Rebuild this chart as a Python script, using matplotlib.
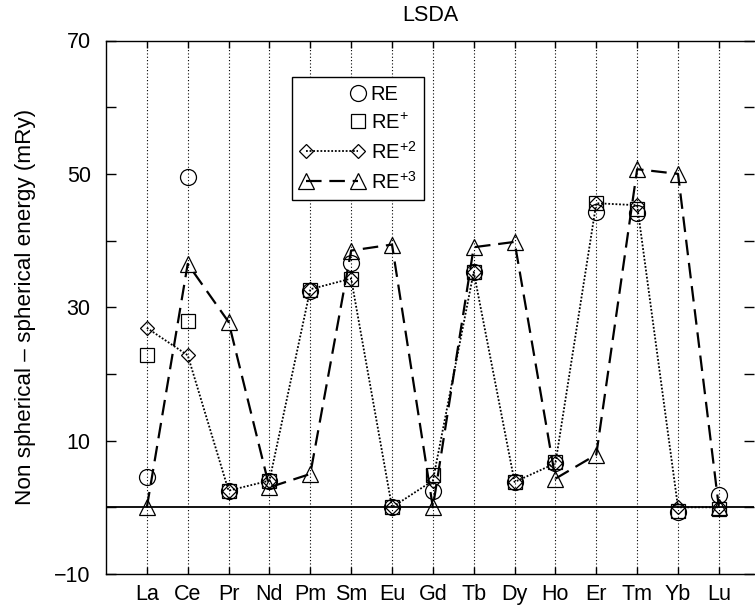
import numpy as np
import matplotlib
matplotlib.use('Agg')
import matplotlib.pyplot as plt
from matplotlib.legend_handler import HandlerLine2D

plt.rcParams['font.family'] = ['Liberation Sans', 'DejaVu Sans']
plt.rcParams['mathtext.fontset'] = 'custom'
plt.rcParams['mathtext.rm'] = 'Liberation Sans'
plt.rcParams['mathtext.it'] = 'Liberation Sans:italic'
plt.rcParams['mathtext.bf'] = 'Liberation Sans:bold'

# Rare-earth elements and energy differences (mRy)
elements = ['La', 'Ce', 'Pr', 'Nd', 'Pm', 'Sm', 'Eu', 'Gd', 'Tb', 'Dy', 'Ho', 'Er', 'Tm', 'Yb', 'Lu']
re_0 = [4.5, 49.6, 2.5, 4.0, 32.5, 36.6, 0.0, 2.4, 35.3, 3.8, 6.6, 44.3, 44.2, -0.7, 1.8]
re_p1 = [22.9, 27.9, 2.5, 4.0, 32.6, 34.3, 0.0, 4.8, 35.3, 3.8, 6.8, 45.6, 44.7, -0.5, -0.2]
re_p2 = [26.9, 22.8, 2.5, 4.0, 32.7, 34.3, 0.0, 4.0, 35.3, 3.8, 6.6, 45.6, 45.3, 0.0, 0.0]
re_p3 = [0.0, 36.5, 27.8, 3.0, 5.0, 38.5, 39.4, 0.0, 39.0, 39.8, 4.3, 7.9, 50.7, 50.0, 0.0]

ytick_values = [-10, 0, 10, 20, 30, 40, 50, 60, 70]
ytick_labels = ['\u221210', '', '10', '', '30', '', '50', '', '70']

x = np.arange(1, len(elements) + 1)


class EndMarkerHandler(HandlerLine2D):
    """Legend handler that puts a single marker at the right end of the sample."""
    def get_xdata(self, legend, xdescent, ydescent, width, height, fontsize):
        pad = self._marker_pad * fontsize
        xm = np.array([-xdescent + width - pad])
        return xm, xm


fig = plt.figure(figsize=(7.55, 6.1), dpi=100)
ax = fig.add_axes([106 / 755, 36 / 610, 648 / 755, 533.5 / 610])

# vertical dotted guides at each element
for xi in x:
    ax.axvline(xi, color='black', lw=0.8, linestyle=(0, (1, 2)), zorder=1)
ax.axhline(0, color='black', lw=1.3, zorder=2)

mk = dict(markerfacecolor='none', markeredgecolor='black', markeredgewidth=0.9)

h0, = ax.plot(x, re_0, linestyle='none', marker='o', markersize=11.5, label='RE', zorder=3, **mk)
h1, = ax.plot(x, re_p1, linestyle='none', marker='s', markersize=9.5, label='RE$^{+}$', zorder=3, **mk)
h2, = ax.plot(x, re_p2, color='black', lw=1.3, linestyle=(0, (1, 1)), marker='D', markersize=7.6,
              label='RE$^{+2}$', zorder=4, **mk)
h3, = ax.plot(x, re_p3, color='black', lw=1.6, linestyle=(0, (7, 3.5)), marker='^', markersize=11.5,
              label='RE$^{+3}$', zorder=4, **mk)

ax.set_xlim(0, 15.86)
ax.set_ylim(-10, 70)
ax.set_xticks(x)
ax.set_xticklabels(elements)
ax.set_yticks(ytick_values)
ax.set_yticklabels(ytick_labels)
ax.tick_params(axis='both', direction='in', labelsize=15.5, length=7, width=1, colors='black')
ax.tick_params(axis='x', length=5, pad=7, top=True)
ax.tick_params(axis='y', right=True, pad=11)

ax.spines['right'].set_visible(False)
for side in ('left', 'top', 'bottom'):
    ax.spines[side].set_linewidth(1.0)

ax.set_title('LSDA', fontsize=15.5, pad=14)
ax.set_ylabel('Non spherical \u2013 spherical energy (mRy)', fontsize=16.2, labelpad=13)

leg = ax.legend(handles=[h0, h1, h2, h3], loc='upper left', bbox_to_anchor=(0.287, 0.931),
                numpoints=2, fontsize=14.5, handlelength=3.2, handletextpad=0.3,
                labelspacing=0.4, borderpad=0.4, fancybox=False, framealpha=1,
                edgecolor='black', borderaxespad=0,
                handler_map={h0: EndMarkerHandler(), h1: EndMarkerHandler()})
leg.get_frame().set_linewidth(1.0)
leg.set_zorder(10)

fig.savefig('out.png', dpi=100, facecolor='white')
plt.close(fig)
